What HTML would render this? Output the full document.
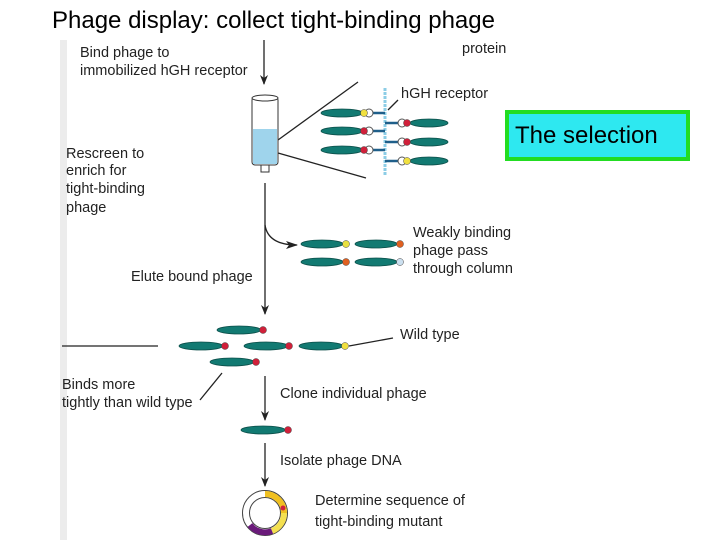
<!DOCTYPE html>
<html><head><style>
body{margin:0;background:#fff;width:720px;height:540px;overflow:hidden;}
svg{position:absolute;left:0;top:0}
text{font-family:"Liberation Sans",sans-serif;}
.s{font-size:14.5px;fill:#222}
</style></head><body>
<svg width="720" height="540" viewBox="0 0 720 540">
<defs>
<marker id="a" markerWidth="10" markerHeight="8" refX="9" refY="4" orient="auto" markerUnits="userSpaceOnUse" viewBox="0 0 10 8"><path d="M0,0 L10,4 L0,8 L3,4z" fill="#222"/></marker>
<marker id="b" markerWidth="12" markerHeight="8" refX="11" refY="4" orient="auto" markerUnits="userSpaceOnUse"><path d="M0,0 L12,4 L0,8 L3,4z" fill="#222"/></marker>
</defs>
<rect x="60" y="40" width="7" height="500" fill="#ececec"/>
<text x="52" y="28" font-size="24" fill="#000">Phage display: collect tight-binding phage</text>
<rect x="507" y="112" width="181" height="47" fill="#2ee8f0" stroke="#22dd22" stroke-width="4"/>
<text x="515" y="143" font-size="24" fill="#000">The selection</text>
<g class="s">
<text x="80" y="57">Bind phage to</text>
<text x="80" y="75">immobilized hGH receptor</text>
<text x="462" y="53">protein</text>
<text x="401" y="98">hGH receptor</text>
<text x="66" y="158">Rescreen to</text>
<text x="66" y="175">enrich for</text>
<text x="66" y="193">tight-binding</text>
<text x="66" y="212">phage</text>
<text x="413" y="237">Weakly binding</text>
<text x="413" y="255">phage pass</text>
<text x="413" y="273">through column</text>
<text x="131" y="281">Elute bound phage</text>
<text x="400" y="339">Wild type</text>
<text x="62" y="389">Binds more</text>
<text x="62" y="407">tightly than wild type</text>
<text x="280" y="398">Clone individual phage</text>
<text x="280" y="465">Isolate phage DNA</text>
<text x="315" y="505">Determine sequence of</text>
<text x="315" y="526">tight-binding mutant</text>
</g>
<g stroke="#222" stroke-width="1.3" fill="none">
<line x1="264" y1="40" x2="264" y2="84" marker-end="url(#a)"/>
<line x1="265" y1="183" x2="265" y2="314" marker-end="url(#a)"/>
<path d="M265,225 Q268,245 297,245" marker-end="url(#b)"/>
<line x1="265" y1="376" x2="265" y2="420" marker-end="url(#a)"/>
<line x1="265" y1="443" x2="265" y2="486" marker-end="url(#a)"/>
<line x1="278" y1="140" x2="358" y2="82"/>
<line x1="278" y1="153" x2="366" y2="178"/>
<line x1="398" y1="100" x2="388" y2="110"/>
<line x1="62" y1="346" x2="158" y2="346"/>
<line x1="349" y1="346" x2="393" y2="338"/>
<line x1="200" y1="400" x2="222" y2="373"/>
</g>
<rect x="252" y="97" width="26" height="68" rx="3" fill="#fff" stroke="#333"/>
<rect x="253" y="129" width="24" height="35" fill="#9fd4ec"/>
<ellipse cx="265" cy="98" rx="13" ry="3" fill="#fff" stroke="#333"/>
<rect x="261" y="165" width="8" height="7" fill="#fff" stroke="#333"/>
<line x1="385" y1="88" x2="385" y2="176" stroke="#8ccde6" stroke-width="3" stroke-dasharray="3,1"/>
<g fill="#127a72" stroke="#0c4f4a" stroke-width="0.8">
<ellipse cx="342" cy="113" rx="21" ry="4"/><ellipse cx="342" cy="131" rx="21" ry="4"/><ellipse cx="342" cy="150" rx="21" ry="4"/>
<ellipse cx="429" cy="123" rx="19" ry="4"/><ellipse cx="429" cy="142" rx="19" ry="4"/><ellipse cx="429" cy="161" rx="19" ry="4"/>
<ellipse cx="322" cy="244" rx="21" ry="4"/><ellipse cx="376" cy="244" rx="21" ry="4"/>
<ellipse cx="322" cy="262" rx="21" ry="4"/><ellipse cx="376" cy="262" rx="21" ry="4"/>
<ellipse cx="239" cy="330" rx="22" ry="4"/>
<ellipse cx="201" cy="346" rx="22" ry="4"/><ellipse cx="266" cy="346" rx="22" ry="4"/><ellipse cx="321" cy="346" rx="22" ry="4"/>
<ellipse cx="232" cy="362" rx="22" ry="4"/>
<ellipse cx="263" cy="430" rx="22" ry="4"/>
</g>
<g stroke="#1f5f8a" stroke-width="2.5">
<line x1="370" y1="113" x2="385" y2="113"/><line x1="370" y1="131" x2="385" y2="131"/><line x1="370" y1="150" x2="385" y2="150"/>
<line x1="385" y1="123" x2="400" y2="123"/><line x1="385" y1="142" x2="400" y2="142"/><line x1="385" y1="161" x2="400" y2="161"/>
</g>
<g fill="#fff" stroke="#555" stroke-width="1">
<circle cx="369" cy="113" r="4"/><circle cx="369" cy="131" r="4"/><circle cx="369" cy="150" r="4"/>
<circle cx="402" cy="123" r="4"/><circle cx="402" cy="142" r="4"/><circle cx="402" cy="161" r="4"/>
</g>
<g stroke="#444" stroke-width="0.5">
<circle cx="364" cy="113" r="3.5" fill="#f0e040"/><circle cx="364" cy="131" r="3.5" fill="#d0203a"/><circle cx="364" cy="150" r="3.5" fill="#d0203a"/>
<circle cx="407" cy="123" r="3.5" fill="#d0203a"/><circle cx="407" cy="142" r="3.5" fill="#d0203a"/><circle cx="407" cy="161" r="3.5" fill="#f0e040"/>
<circle cx="346" cy="244" r="3.5" fill="#e8e040"/><circle cx="400" cy="244" r="3.5" fill="#e06020"/>
<circle cx="346" cy="262" r="3.5" fill="#e06020"/><circle cx="400" cy="262" r="3.5" fill="#cce0f0"/>
<circle cx="263" cy="330" r="3.5" fill="#d0203a"/>
<circle cx="225" cy="346" r="3.5" fill="#d0203a"/><circle cx="289" cy="346" r="3.5" fill="#d0203a"/><circle cx="345" cy="346" r="3.5" fill="#f0e040"/>
<circle cx="256" cy="362" r="3.5" fill="#d0203a"/>
<circle cx="288" cy="430" r="3.5" fill="#d0203a"/>
</g>
<circle cx="265" cy="513" r="19" fill="none" stroke="#444" stroke-width="8"/>
<circle cx="265" cy="513" r="19" fill="none" stroke="#fff" stroke-width="6"/>
<path d="M265,494 A19,19 0 0 1 284,513" fill="none" stroke="#f0c020" stroke-width="6"/>
<path d="M284,513 A19,19 0 0 1 272,531" fill="none" stroke="#f4e050" stroke-width="6"/>
<path d="M272,531 A19,19 0 0 1 250,525" fill="none" stroke="#6a1a7a" stroke-width="6"/>
<circle cx="283" cy="508" r="2.5" fill="#d0203a"/>
</svg>
</body></html>
